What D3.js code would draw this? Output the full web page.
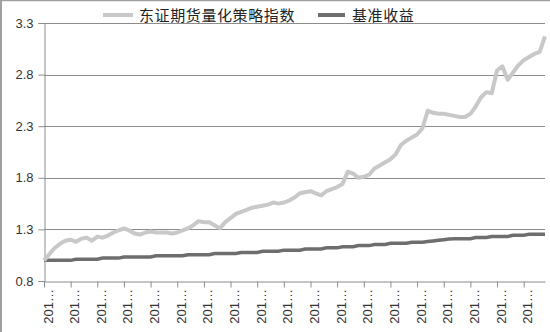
<!DOCTYPE html>
<html><head><meta charset="utf-8">
<script src="https://cdn.jsdelivr.net/npm/d3@7"></script>
<style>
html,body{margin:0;padding:0;background:#fff;}
svg{display:block;}
</style></head>
<body>
<svg id="chart" width="550" height="332"></svg>
<script>
// Trading-day index of each sample (every 5 days)
const days = d3.range(0, 471, 5);
// 东证期货量化策略指数
const strategyValues = [
  1.00,1.06,1.12,1.16,1.19,1.20,1.18,1.21,1.22,1.19,
  1.23,1.22,1.24,1.27,1.29,1.31,1.29,1.26,1.25,1.27,
  1.28,1.27,1.27,1.27,1.26,1.27,1.29,1.31,1.34,1.38,
  1.37,1.37,1.34,1.31,1.37,1.41,1.45,1.47,1.49,1.51,
  1.52,1.53,1.54,1.56,1.55,1.56,1.58,1.61,1.65,1.66,
  1.67,1.65,1.63,1.67,1.69,1.71,1.74,1.86,1.84,1.80,
  1.81,1.83,1.89,1.92,1.95,1.98,2.03,2.12,2.16,2.19,
  2.22,2.28,2.45,2.43,2.42,2.42,2.41,2.40,2.39,2.39,
  2.42,2.49,2.58,2.63,2.62,2.84,2.88,2.75,2.82,2.89,
  2.94,2.97,3.00,3.02,3.17
];
// 基准收益
const benchmarkValues = [
  1.000,1.000,1.000,1.000,1.000,1.000,1.011,1.011,1.011,1.011,
  1.011,1.022,1.022,1.022,1.022,1.033,1.033,1.033,1.033,1.033,
  1.033,1.044,1.044,1.044,1.044,1.044,1.044,1.055,1.055,1.055,
  1.055,1.055,1.066,1.066,1.066,1.066,1.066,1.077,1.077,1.077,
  1.077,1.088,1.088,1.088,1.088,1.099,1.099,1.099,1.099,1.110,
  1.110,1.110,1.110,1.121,1.121,1.121,1.132,1.132,1.132,1.143,
  1.143,1.143,1.154,1.154,1.154,1.165,1.165,1.165,1.165,1.176,
  1.176,1.176,1.182,1.188,1.194,1.200,1.206,1.210,1.210,1.210,
  1.210,1.221,1.221,1.221,1.232,1.232,1.232,1.232,1.243,1.243,
  1.243,1.252,1.252,1.252,1.252
];
const yTicks = [0.8, 1.3, 1.8, 2.3, 2.8, 3.3];
const xTickDays = d3.range(0, 451, 25);
const xTickLabels = xTickDays.map(() => "201…");
const seriesNames = ["东证期货量化策略指数", "基准收益"];
const seriesColors = ["#c8c8c8", "#6e6e6e"];

const svg = d3.select("#chart");
const L = 44, R = 545, T = 23, B = 281;
const x = d3.scaleLinear().domain([0, 470]).range([L, R]);
const y = d3.scaleLinear().domain([0.8, 3.3]).range([B, T]);

// frame (top & left)
svg.append("line").attr("x1",0).attr("x2",550).attr("y1",0.5).attr("y2",0.5).attr("stroke","#a0a0a0").attr("stroke-width",1.5);
svg.append("line").attr("x1",1).attr("x2",1).attr("y1",0).attr("y2",332).attr("stroke","#a0a0a0").attr("stroke-width",2);

// gridlines
svg.append("g").selectAll("line").data(yTicks.slice(1)).join("line")
  .attr("x1", L).attr("x2", R)
  .attr("y1", d => Math.round(y(d)) + 0.5).attr("y2", d => Math.round(y(d)) + 0.5)
  .attr("stroke", "#8c8c8c").attr("stroke-width", 1);

// y axis
const yAxis = d3.axisLeft(y).tickValues(yTicks).tickFormat(d3.format(".1f")).tickSize(6).tickPadding(5);
const gy = svg.append("g").attr("transform", `translate(${L + 0.5},0)`).call(yAxis);
gy.select(".domain").attr("stroke", "#8c8c8c");
gy.selectAll(".tick line").attr("stroke", "#8c8c8c");
gy.selectAll("text").attr("font-family", "'Liberation Sans', Arial, sans-serif")
  .attr("font-size", 13).attr("fill", "#333");

// x axis
const xAxis = d3.axisBottom(x).tickValues(xTickDays).tickFormat("").tickSize(6).tickSizeOuter(0);
const gx = svg.append("g").attr("transform", `translate(0,${B + 0.5})`).call(xAxis);
gx.select(".domain").attr("stroke", "#8c8c8c");
gx.selectAll(".tick line").attr("stroke", "#8c8c8c");

svg.append("g").selectAll("text").data(xTickDays).join("text")
  .attr("transform", (d, i) => `translate(${x(d) + 8.5},289) rotate(-90)`)
  .attr("text-anchor", "end")
  .attr("font-family", "'Liberation Sans', Arial, sans-serif")
  .attr("font-size", 13).attr("fill", "#333")
  .text((d, i) => xTickLabels[i]);

// lines
const line = d3.line().x(d => x(d[0])).y(d => y(d[1]));
svg.append("path").datum(days.map((d, i) => [d, benchmarkValues[i]]))
  .attr("d", line).attr("fill", "none").attr("stroke", seriesColors[1])
  .attr("stroke-width", 3.5);
svg.append("path").datum(days.map((d, i) => [d, strategyValues[i]]))
  .attr("d", line).attr("fill", "none").attr("stroke", seriesColors[0])
  .attr("stroke-width", 4).attr("stroke-linejoin", "round");

// legend
const legend = [
  {x1: 103, x2: 133, tx: 139},
  {x1: 318, x2: 345, tx: 352}
];
legend.forEach((lg, i) => {
  svg.append("line").attr("x1", lg.x1).attr("x2", lg.x2).attr("y1", 15).attr("y2", 15)
    .attr("stroke", seriesColors[i]).attr("stroke-width", 4);
  svg.append("text").attr("x", lg.tx).attr("y", 21)
    .attr("font-family", "'Noto Sans CJK SC', sans-serif")
    .attr("font-size", 15).attr("letter-spacing", 0.6).attr("fill", "#222")
    .text(seriesNames[i]);
});
</script>
</body></html>
